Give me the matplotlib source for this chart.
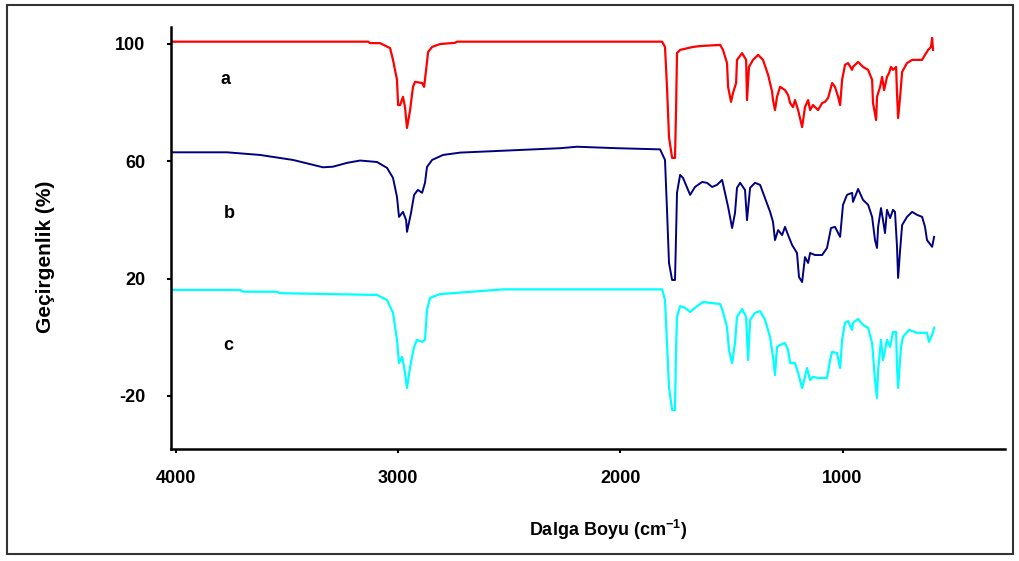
import matplotlib
matplotlib.use("Agg")
import matplotlib.pyplot as plt
from matplotlib.patches import Rectangle

plt.rcParams['font.family'] = ['Liberation Sans', 'DejaVu Sans']
plt.rcParams['font.weight'] = 'bold'
plt.rcParams['axes.unicode_minus'] = False
plt.rcParams['mathtext.fontset'] = 'custom'
plt.rcParams['mathtext.rm'] = 'Liberation Sans:bold'
plt.rcParams['mathtext.bf'] = 'Liberation Sans:bold'

# spectrum a (red)
wn_a = [4017, 3135, 3126, 3081, 3036, 3023, 3005, 3000, 2991, 2978, 2969, 2960, 2946, 2933,
        2924, 2892, 2883, 2874, 2865, 2847, 2811, 2744, 2735, 1812, 1799, 1790, 1781, 1767,
        1754, 1749, 1745, 1731, 1673, 1641, 1551, 1538, 1520, 1515, 1502, 1493, 1479, 1475,
        1452, 1434, 1430, 1421, 1403, 1380, 1358, 1335, 1317, 1313, 1304, 1295, 1281, 1259,
        1245, 1236, 1223, 1214, 1200, 1182, 1169, 1155, 1146, 1133, 1110, 1092, 1079, 1065,
        1047, 1034, 1020, 1011, 1002, 989, 975, 957, 953, 930, 908, 885, 867, 863, 849, 845,
        831, 822, 813, 800, 791, 782, 773, 759, 755, 750, 741, 732, 710, 687, 642, 629, 615,
        602, 597, 593]
tr_a = [100.7, 100.7, 100.2, 100.2, 98.5, 94.5, 87.7, 79.1, 79.1, 81.9, 78.4, 71.3, 77.4, 85.3,
        87.0, 86.6, 85.3, 91.1, 97.2, 98.9, 99.9, 100.3, 100.7, 100.7, 98.9, 85.3, 68.2, 61.1,
        61.1, 78.4, 96.8, 97.9, 98.9, 99.2, 99.6, 97.9, 93.4, 85.3, 80.2, 83.2, 86.6, 94.5,
        96.8, 94.5, 80.8, 92.1, 94.5, 96.2, 94.5, 89.4, 83.6, 80.8, 77.4, 81.9, 85.3, 84.2,
        82.5, 79.8, 78.4, 80.8, 77.4, 71.6, 78.4, 80.8, 77.4, 79.1, 77.4, 79.8, 80.2, 81.5,
        86.6, 85.3, 81.9, 79.1, 87.7, 92.8, 93.4, 91.1, 92.1, 93.8, 92.1, 91.1, 87.7, 79.8, 74.0, 81.9,
        85.3, 88.7, 84.2, 88.7, 90.0, 92.1, 91.1, 92.1, 83.2, 74.7, 81.9, 90.4, 93.4, 94.5, 94.5, 96.2, 97.9,
        98.9, 102.0, 97.9]

# spectrum b (navy)
wn_b = [4017, 3770, 3621, 3473, 3338, 3293, 3230, 3171, 3095, 3050, 3023, 3005, 2996, 2978,
        2964, 2960, 2942, 2928, 2911, 2892, 2879, 2870, 2847, 2798, 2721, 2451, 2271, 2195,
        2015, 1821, 1799, 1790, 1781, 1767, 1754, 1749, 1745, 1731, 1718, 1686, 1664, 1632,
        1610, 1587, 1565, 1542, 1529, 1515, 1497, 1484, 1475, 1461, 1439, 1430, 1416, 1394,
        1371, 1349, 1326, 1313, 1304, 1290, 1272, 1259, 1245, 1227, 1205, 1196, 1182, 1169,
        1155, 1146, 1124, 1092, 1070, 1052, 1034, 1020, 1011, 998, 980, 957, 953, 930, 908,
        885, 867, 854, 845, 840, 827, 818, 809, 800, 786, 773, 764, 755, 750, 741, 732, 710,
        687, 665, 642, 629, 620, 597, 588]
tr_b = [63.0, 63.0, 62.1, 60.4, 57.9, 58.1, 59.4, 60.2, 59.7, 57.7, 54.3, 47.8, 41.0, 42.7,
        39.9, 35.9, 42.3, 48.5, 50.2, 49.2, 52.6, 58.0, 60.4, 62.1, 62.9, 63.8, 64.4, 64.9,
        64.4, 64.0, 60.4, 43.4, 25.3, 19.5, 19.5, 35.5, 49.2, 55.3, 54.3, 48.5, 51.2, 52.9,
        52.6, 51.2, 51.9, 53.6, 49.2, 44.4, 37.2, 42.3, 50.9, 52.6, 50.2, 39.9, 50.9, 52.6,
        51.9, 47.4, 42.7, 39.3, 33.1, 36.5, 34.8, 37.6, 34.8, 31.4, 28.7, 20.5, 18.8, 27.3,
        25.3, 28.7, 28.0, 28.0, 30.4, 37.2, 37.6, 35.5, 34.2, 45.1, 48.5, 49.2, 46.1, 50.5, 46.8,
        45.1, 41.0, 33.1, 30.4, 37.6, 44.0, 39.9, 35.5, 43.4, 40.6, 43.4, 42.7, 30.8, 20.2, 29.7, 38.2, 41.0,
        42.7, 41.7, 41.0, 37.6, 33.1, 30.8, 34.2]

# spectrum c (cyan)
wn_c = [4017, 3711, 3698, 3545, 3531, 3095, 3050, 3023, 3005, 2996, 2982, 2973, 2960, 2946,
        2928, 2915, 2892, 2879, 2870, 2856, 2811, 2721, 2528, 1812, 1799, 1790, 1781, 1767,
        1754, 1749, 1745, 1731, 1709, 1686, 1664, 1628, 1596, 1551, 1538, 1520, 1511, 1497,
        1484, 1475, 1452, 1434, 1425, 1416, 1394, 1371, 1349, 1326, 1313, 1304, 1295, 1281,
        1259, 1245, 1236, 1214, 1200, 1182, 1169, 1160, 1146, 1133, 1110, 1070, 1056, 1047,
        1025, 1011, 1002, 989, 975, 957, 953, 930, 908, 885, 867, 854, 845, 840, 827, 818,
        800, 786, 773, 759, 755, 750, 737, 728, 701, 665, 620, 611, 597, 588]
tr_c = [16.1, 16.1, 15.5, 15.5, 15.0, 14.4, 12.7, 8.3, -0.9, -8.8, -6.7, -10.1, -17.3, -10.1,
        -3.3, -0.9, -1.6, -0.9, 9.3, 13.4, 14.7, 15.2, 16.3, 16.3, 12.7, -2.0, -17.0, -24.8,
        -24.8, -3.3, 6.9, 10.6, 10.0, 8.6, 10.0, 12.0, 11.7, 11.3, 8.6, 3.5, -4.4, -8.8,
        -2.0, 6.9, 9.6, 6.9, -7.8, 5.9, 8.3, 8.9, 5.9, 0.1, -6.7, -12.9, -3.3, -2.6,
        -2.0, -4.4, -8.8, -8.8, -12.2, -17.3, -13.5, -10.5, -14.6, -13.5, -13.9, -13.9, -7.8, -5.0,
        -5.4, -10.5, -0.9, 4.9, 5.5, 2.5, 4.9, 6.2, 4.2, 3.2, -2.0, -14.6, -20.7, -11.2, -0.9, -7.8,
        -0.9, -3.3, 1.8, 1.8, -10.1, -17.3, -3.3, 0.1, 2.5, 1.5, 1.5, -1.6, 0.8, 3.2]

x_ticks = [4000, 3000, 2000, 1000]
y_ticks = [100, 60, 20, -20]
labels = ['a', 'b', 'c']

fig = plt.figure(figsize=(10.2, 5.61), dpi=100)
ax = fig.add_axes([0.1672, 0.1996, 0.8181, 0.7528])

ax.plot(wn_a, tr_a, color='#ff0000', lw=1.6)
ax.plot(wn_b, tr_b, color='#000080', lw=1.4)
ax.plot(wn_c, tr_c, color='#00ffff', lw=1.6)

ax.set_xlim(4024, 269)
ax.set_ylim(-38.1, 105.8)
ax.set_xticks(x_ticks)
ax.set_yticks(y_ticks)
ax.set_yticklabels([str(t) for t in y_ticks])
ax.tick_params(axis='y', direction='out', length=3, width=1.5, pad=15, labelsize=13)
ax.tick_params(axis='x', direction='out', length=3, width=1.5, pad=12, labelsize=13)
for s in ['top', 'right']:
    ax.spines[s].set_visible(False)
for s in ['left', 'bottom']:
    ax.spines[s].set_linewidth(1.8)

# curve labels
for lab, (px, py) in zip(labels, [(226, 80), (229, 213), (228, 345)]):
    fig.text(px / 1020, 1 - py / 561, lab, ha='center', va='center', fontsize=13, fontweight='bold')

fig.text(608 / 1020, 1 - 530 / 561, 'Dalga Boyu (cm$^{-1}$)', ha='center', va='center',
         fontsize=13, fontweight='bold')
fig.text(46 / 1020, 1 - 257 / 561, 'Geçirgenlik (%)', rotation=90, ha='center', va='center',
         fontsize=15, fontweight='bold')

# outer frame
fig.patches.append(Rectangle((7 / 1020, 1 - 554 / 561), 1006 / 1020, 549 / 561,
                             transform=fig.transFigure, fill=False, ec='#333333', lw=1.5))

plt.savefig('out.png', dpi=100)
